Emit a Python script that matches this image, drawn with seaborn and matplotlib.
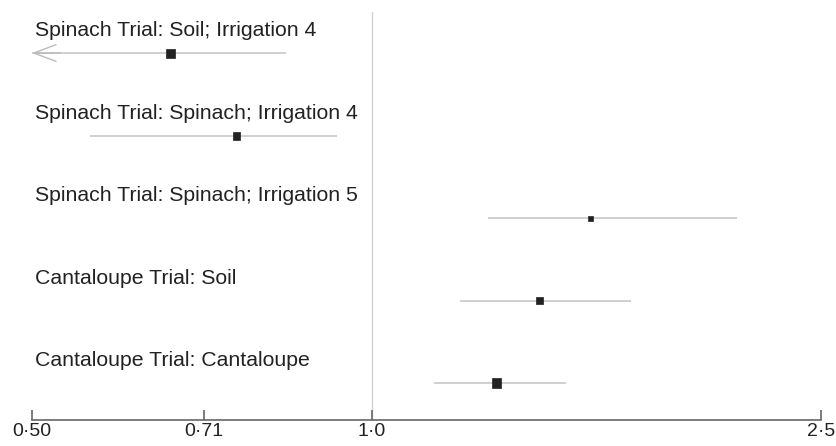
import matplotlib
matplotlib.use("Agg")
import matplotlib.pyplot as plt
import seaborn as sns
import pandas as pd
import numpy as np

labels = [
    "Spinach Trial: Soil; Irrigation 4",
    "Spinach Trial: Spinach; Irrigation 4",
    "Spinach Trial: Spinach; Irrigation 5",
    "Cantaloupe Trial: Soil",
    "Cantaloupe Trial: Cantaloupe",
]
estimates = [0.664, 0.759, 1.562, 1.408, 1.29]
ci_low = [0.45, 0.563, 1.268, 1.197, 1.136]
ci_high = [0.84, 0.932, 2.106, 1.696, 1.487]
weights = [42, 33, 13, 28, 45]
tick_values = [0.50, 0.71, 1.0, 2.5]
tick_labels = ["0·50", "0·71", "1·0", "2·5"]

sns.set_style("white")
plt.rcParams["font.family"] = ["Liberation Sans", "DejaVu Sans"]

df = pd.DataFrame({"label": labels, "est": estimates, "lo": ci_low,
                   "hi": ci_high, "w": weights, "row": range(len(labels))})

fig = plt.figure(figsize=(8.37, 4.46), dpi=100)
ax = fig.add_axes([0.038, 0.058, 0.943, 0.915])
ax.set_xscale("log")
xmin, xmax = 0.5, 2.5
ax.set_xlim(xmin, xmax)
ax.set_ylim(len(labels) - 1 + 0.45, -0.497)

ax.axvline(1.0, color="#d2d2d2", lw=1.0, zorder=0)

line_color = "#c8c8c8"
for _, r in df.iterrows():
    lo = max(r["lo"], xmin)
    ax.plot([lo, r["hi"]], [r["row"], r["row"]], color=line_color, lw=1.2, zorder=1,
            solid_capstyle="butt")
    if r["lo"] < xmin:
        ax.annotate("", xy=(xmin, r["row"]), xytext=(xmin * 1.06, r["row"]),
                    arrowprops=dict(arrowstyle="->,head_length=1.6,head_width=0.6",
                                    color="#bbbbbb", lw=1.0, shrinkA=0, shrinkB=0))
    ax.text(0.503, r["row"] - 0.27, r["label"], ha="left", va="center",
            fontsize=15.3, color="#222222")

sns.scatterplot(data=df, x="est", y="row", size="w", sizes=(min(weights), max(weights)),
                size_norm=(min(weights), max(weights)),
                marker="s", color="#222222", edgecolor="#222222", linewidth=0.5,
                legend=False, ax=ax, zorder=3)

ax.set_xticks(tick_values)
ax.set_xticklabels(tick_labels)
ax.xaxis.set_minor_locator(matplotlib.ticker.NullLocator())
ax.tick_params(axis="x", direction="in", length=7, width=1.2, color="#666666",
               labelsize=14, pad=2, labelcolor="#222222", bottom=True)
ax.set_yticks([])
for s in ["top", "left", "right"]:
    ax.spines[s].set_visible(False)
ax.spines["bottom"].set_color("#666666")
ax.spines["bottom"].set_linewidth(1.2)
ax.set_xlabel("")
ax.set_ylabel("")

fig.savefig("out.png", dpi=100)
